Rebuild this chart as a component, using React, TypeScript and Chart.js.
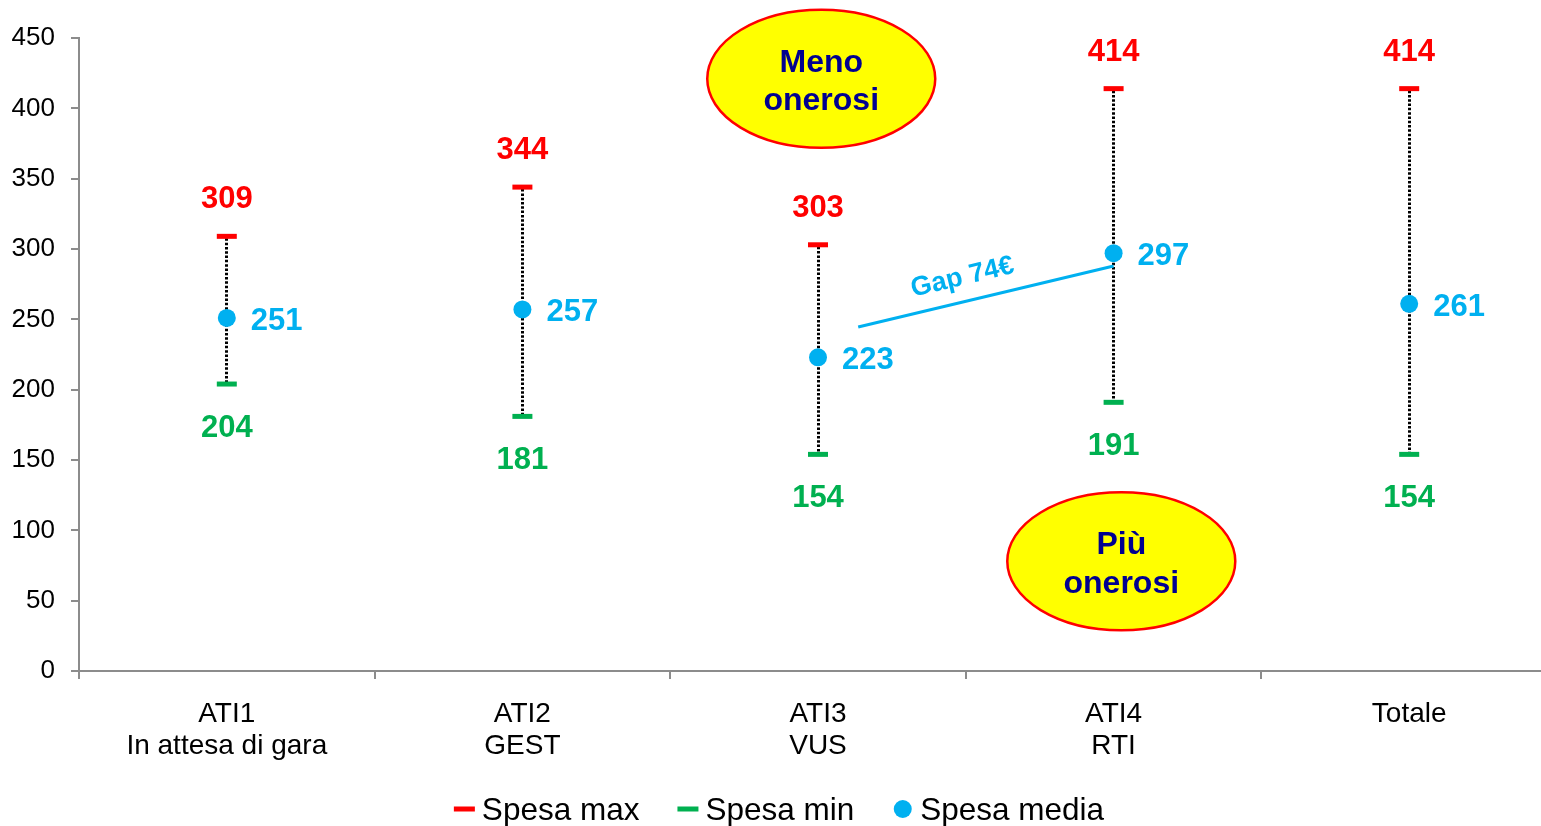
import React, { useEffect, useRef } from "react";
import { Chart, registerables } from "chart.js";

Chart.register(...registerables);

// ---------- data ----------
const categories: string[][] = [
  ["ATI1", "In attesa di gara"],
  ["ATI2", "GEST"],
  ["ATI3", "VUS"],
  ["ATI4", "RTI"],
  ["Totale"],
];
const spesaMax: number[] = [309, 344, 303, 414, 414];
const spesaMin: number[] = [204, 181, 154, 191, 154];
const spesaMedia: number[] = [251, 257, 223, 297, 261];
const seriesLabels: string[] = ["Spesa max", "Spesa min", "Spesa media"];
const yMin = 0;
const yMax = 450;
const yStep = 50;

// annotations (data units: x = category index, y = value)
const gapLabel = "Gap 74€";
const gapFrom = { x: 2.136, y: 244.6 };
const gapTo = { x: 3, y: 287.9 };
const bubbleLines: string[][] = [["Meno", "onerosi"], ["Più", "onerosi"]];
const bubbleX: number[] = [2.011, 3.026];
const bubbleY: number[] = [421, 78];

// ---------- styles ----------
const FONT = "'Liberation Sans', Arial, Helvetica, sans-serif";
const RED = "#FF0000";
const GREEN = "#00B050";
const BLUE = "#00B0F0";
const NAVY = "#000090";
const AXIS = "#8C8C8C";
const LEGEND_CENTER_X = 779;

const rangePlugin = {
  id: "ranges",
  beforeDatasetsDraw(chart: any) {
    const { ctx, scales } = chart;
    const x = scales.x;
    const y = scales.y;
    ctx.save();
    ctx.strokeStyle = "#000";
    ctx.lineWidth = 3;
    ctx.setLineDash([2.5, 1.8]);
    spesaMax.forEach((v, i) => {
      const px = Math.floor(x.getPixelForValue(i)) + 0.5;
      ctx.beginPath();
      ctx.moveTo(px, y.getPixelForValue(v) + 2);
      ctx.lineTo(px, y.getPixelForValue(spesaMin[i]));
      ctx.stroke();
    });
    ctx.restore();
  },
  afterDatasetsDraw(chart: any) {
    const { ctx, scales } = chart;
    const x = scales.x;
    const y = scales.y;
    ctx.save();
    ctx.font = `bold 31px ${FONT}`;
    ctx.textBaseline = "alphabetic";
    spesaMax.forEach((v, i) => {
      const px = x.getPixelForValue(i);
      ctx.fillStyle = RED;
      ctx.textAlign = "center";
      ctx.fillText(String(v), px, y.getPixelForValue(v) - 28);
      ctx.fillStyle = GREEN;
      ctx.fillText(String(spesaMin[i]), px, y.getPixelForValue(spesaMin[i]) + 53);
      ctx.fillStyle = BLUE;
      ctx.textAlign = "left";
      ctx.fillText(String(spesaMedia[i]), px + 24, y.getPixelForValue(spesaMedia[i]) + 12);
    });
    ctx.restore();
  },
  afterDraw(chart: any) {
    const { ctx, scales } = chart;
    const x = scales.x;
    const y = scales.y;
    ctx.save();

    // gap line
    const p1 = { x: x.getPixelForValue(gapFrom.x), y: y.getPixelForValue(gapFrom.y) };
    const p2 = { x: x.getPixelForValue(gapTo.x), y: y.getPixelForValue(gapTo.y) };
    ctx.strokeStyle = BLUE;
    ctx.lineWidth = 3;
    ctx.beginPath();
    ctx.moveTo(p1.x, p1.y);
    ctx.lineTo(p2.x, p2.y);
    ctx.stroke();
    const a = Math.atan2(p2.y - p1.y, p2.x - p1.x);
    const f = 0.43;
    const bx = p1.x + (p2.x - p1.x) * f;
    const by = p1.y + (p2.y - p1.y) * f;
    const tx = bx + Math.sin(a) * 24;
    const ty = by - Math.cos(a) * 24;
    ctx.save();
    ctx.translate(tx, ty);
    ctx.rotate(a);
    ctx.fillStyle = BLUE;
    ctx.font = `bold 27px ${FONT}`;
    ctx.textAlign = "center";
    ctx.textBaseline = "middle";
    ctx.fillText(gapLabel, 0, 0);
    ctx.restore();

    // ellipses
    bubbleLines.forEach((lines, k) => {
      const cx = x.getPixelForValue(bubbleX[k]);
      const cy = y.getPixelForValue(bubbleY[k]);
      ctx.beginPath();
      ctx.ellipse(cx, cy, 114, 69, 0, 0, Math.PI * 2);
      ctx.fillStyle = "#FFFF00";
      ctx.fill();
      ctx.strokeStyle = RED;
      ctx.lineWidth = 2.5;
      ctx.stroke();
      ctx.fillStyle = NAVY;
      ctx.font = `bold 32px ${FONT}`;
      ctx.textAlign = "center";
      ctx.textBaseline = "alphabetic";
      ctx.fillText(lines[0], cx, cy - 7);
      ctx.fillText(lines[1], cx, cy + 31.5);
    });

    // legend
    const items = chart.data.datasets.map((ds: any) => ({
      label: ds.label as string,
      color: ds.backgroundColor as string,
      style: ds.pointStyle as string,
    }));
    ctx.font = `31.5px ${FONT}`;
    const markerW = 21;
    const gap = 7;
    const spacing = 38;
    const widths = items.map((it: any) => markerW + gap + ctx.measureText(it.label).width);
    const total = widths.reduce((s: number, w: number) => s + w, 0) + spacing * (items.length - 1);
    let cx = LEGEND_CENTER_X - total / 2;
    const my = 809;
    items.forEach((it: any, i: number) => {
      ctx.fillStyle = it.color;
      if (it.style === "line") {
        ctx.fillRect(cx, my - 2.5, markerW, 5);
      } else {
        ctx.beginPath();
        ctx.arc(cx + markerW / 2, my, 9, 0, Math.PI * 2);
        ctx.fill();
      }
      ctx.fillStyle = "#000";
      ctx.textAlign = "left";
      ctx.textBaseline = "alphabetic";
      ctx.fillText(it.label, cx + markerW + gap, 820);
      cx += widths[i] + spacing;
    });

    ctx.restore();
  },
};

export default function App() {
  const ref = useRef<HTMLCanvasElement>(null);
  useEffect(() => {
    const canvas = ref.current;
    if (!canvas) return;
    const chart = new Chart(canvas, {
      type: "line",
      data: {
        labels: categories as any,
        datasets: [
          {
            label: seriesLabels[0],
            data: spesaMax,
            showLine: false,
            pointStyle: "line",
            pointRadius: 10,
            pointBorderWidth: 5,
            pointBorderColor: RED,
            pointBackgroundColor: RED,
            borderColor: RED,
            backgroundColor: RED,
          },
          {
            label: seriesLabels[1],
            data: spesaMin,
            showLine: false,
            pointStyle: "line",
            pointRadius: 10,
            pointBorderWidth: 5,
            pointBorderColor: GREEN,
            pointBackgroundColor: GREEN,
            borderColor: GREEN,
            backgroundColor: GREEN,
          },
          {
            label: seriesLabels[2],
            data: spesaMedia,
            showLine: false,
            pointStyle: "circle",
            pointRadius: 9,
            pointBorderWidth: 0,
            pointBackgroundColor: BLUE,
            borderColor: BLUE,
            backgroundColor: BLUE,
          },
        ],
      },
      options: {
        animation: false,
        responsive: false,
        events: [],
        layout: { padding: { top: 38, right: 6, left: 0, bottom: 0 } },
        plugins: {
          legend: { display: false },
          tooltip: { enabled: false },
        },
        scales: {
          x: {
            type: "category",
            offset: true,
            grid: {
              offset: true,
              drawOnChartArea: false,
              drawTicks: true,
              tickLength: 8,
              color: AXIS,
              lineWidth: 2,
            },
            border: { display: true, color: AXIS, width: 2 },
            ticks: {
              color: "#000",
              font: { family: FONT, size: 28, lineHeight: 32 / 28 },
              padding: 19,
              maxRotation: 0,
              autoSkip: false,
            },
            afterFit: (s: any) => {
              s.height = 155;
            },
          },
          y: {
            min: yMin,
            max: yMax,
            ticks: {
              stepSize: yStep,
              color: "#000",
              font: { family: FONT, size: 26 },
              padding: 16,
            },
            grid: {
              drawOnChartArea: false,
              tickLength: 8,
              color: AXIS,
              lineWidth: 2,
            },
            border: { display: true, color: AXIS, width: 2 },
            afterFit: (s: any) => {
              s.width = 79;
            },
          },
        },
      },
      plugins: [rangePlugin],
    } as any);
    return () => chart.destroy();
  }, []);

  return (
    <div
      style={{
        position: "fixed",
        left: 0,
        top: 0,
        width: 1541,
        height: 826,
        overflow: "hidden",
        background: "#fff",
      }}
    >
      <canvas
        ref={ref}
        width={1572}
        height={826}
        style={{ width: 1572, height: 826, display: "block" }}
      />
    </div>
  );
}
